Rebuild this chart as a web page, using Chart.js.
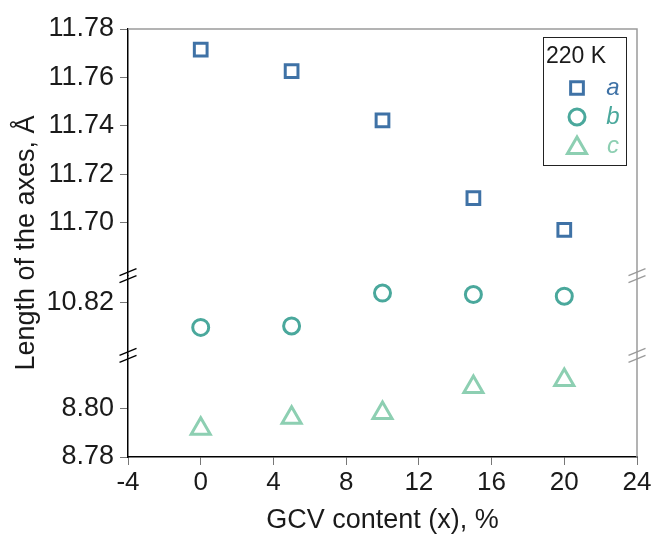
<!DOCTYPE html>
<html>
<head>
<meta charset="utf-8">
<script src="https://cdn.jsdelivr.net/npm/chart.js@4/dist/chart.umd.min.js"></script>
<style>
  html, body { margin: 0; padding: 0; background: #fff; }
  #wrap { width: 651px; height: 538px; }
</style>
</head>
<body>
<div id="wrap"><canvas id="c" width="651" height="538"></canvas></div>
<script>
// GCV content (x, %) and lattice parameters at 220 K
const content = [0, 5, 10, 15, 20];
const axisA = [11.7715, 11.7626, 11.7422, 11.7101, 11.6969];
const axisB = [10.8096, 10.8102, 10.8238, 10.8232, 10.8225];
const axisC = [8.7917, 8.7962, 8.7982, 8.8090, 8.8118];

const seriesNames = ['a', 'b', 'c'];
const legendTitle = '220 K';

// axis ticks and the three pieces of the broken y axis
const xTicks = [-4, 0, 4, 8, 12, 16, 20, 24];
const ticksTop = [11.70, 11.72, 11.74, 11.76, 11.78];
const ticksMid = [10.82];
const ticksBot = [8.78, 8.80];
const rangeTop = [11.678, 11.78];
const rangeMid = [10.798, 10.831];
const rangeBot = [8.78, 8.822];

const FONT = "'Liberation Sans', Arial, sans-serif";
const colA = '#3f72a6', colB = '#4aa89c', colC = '#8dcfb2';

function pts(ys) { return content.map((x, i) => ({ x: x, y: ys[i] })); }

function yPiece(range, ticks) {
  return {
    type: 'linear',
    position: 'left',
    stack: 'left',
    stackWeight: range[1] - range[0],
    min: range[0],
    max: range[1],
    afterBuildTicks: s => { s.ticks = ticks.map(v => ({ value: v })); },
    afterFit: s => { s.width = 128; },
    grid: { drawOnChartArea: false, drawTicks: true, tickLength: 8, tickColor: '#777', tickWidth: 1 },
    border: { display: true, color: '#000', width: 1.5 },
    ticks: { font: { family: FONT, size: 27 }, color: '#1a1a1a', padding: 6,
             callback: v => Number(v).toFixed(2) }
  };
}

// double slashes where the y axis is cut, on both sides
const breakMarks = {
  id: 'breakMarks',
  afterDraw(chart) {
    const { ctx, chartArea: ca, scales } = chart;
    const ys = [scales.yTop.bottom, scales.yMid.bottom];
    const sides = [[ca.left, '#000'], [ca.right, '#9a9a9a']];
    ctx.save();
    ctx.lineWidth = 1.3;
    sides.forEach(([x, col]) => {
      ctx.strokeStyle = col;
      ys.forEach(y => {
        [-3.5, 3.5].forEach(d => {
          ctx.beginPath();
          ctx.moveTo(x - 8.5, y + d + 3.5);
          ctx.lineTo(x + 8.5, y + d - 3.5);
          ctx.stroke();
        });
      });
    });
    ctx.restore();
  }
};

// grey top and right frame lines
const frame = {
  id: 'frame',
  beforeDatasetsDraw(chart) {
    const { ctx, chartArea: ca } = chart;
    ctx.save();
    ctx.strokeStyle = '#9a9a9a';
    ctx.lineWidth = 1.5;
    ctx.beginPath();
    ctx.moveTo(ca.left, ca.top);
    ctx.lineTo(ca.right, ca.top);
    ctx.lineTo(ca.right, ca.bottom);
    ctx.stroke();
    ctx.restore();
  }
};

// one y title for the whole broken axis
const yTitle = {
  id: 'yTitle',
  afterDraw(chart) {
    const { ctx, chartArea: ca } = chart;
    ctx.save();
    ctx.translate(27, (ca.top + ca.bottom) / 2);
    ctx.rotate(-Math.PI / 2);
    ctx.font = '27px ' + FONT;
    ctx.fillStyle = '#1a1a1a';
    ctx.textAlign = 'center';
    ctx.textBaseline = 'middle';
    ctx.fillText('Length of the axes, \u00C5', 0, 0);
    ctx.restore();
  }
};

// boxed legend inside the plot
const boxLegend = {
  id: 'boxLegend',
  afterDraw(chart) {
    const { ctx } = chart;
    const bx = 543, by = 37, bw = 83, bh = 128;
    ctx.save();
    ctx.fillStyle = '#fff';
    ctx.fillRect(bx, by, bw, bh);
    ctx.strokeStyle = '#222';
    ctx.lineWidth = 1;
    ctx.strokeRect(bx + 0.5, by + 0.5, bw, bh);
    ctx.fillStyle = '#1a1a1a';
    ctx.font = '23px ' + FONT;
    ctx.textAlign = 'left';
    ctx.textBaseline = 'middle';
    ctx.fillText(legendTitle, bx + 3, by + 20);
    chart.data.datasets.forEach((ds, i) => {
      const y = by + 51 + i * 29;
      const opts = { pointStyle: ds.pointStyle, radius: ds.pointRadius, borderWidth: ds.borderWidth, rotation: 0 };
      ctx.strokeStyle = ds.borderColor;
      ctx.fillStyle = 'rgba(0,0,0,0)';
      ctx.lineWidth = ds.borderWidth;
      Chart.helpers.drawPoint(ctx, opts, bx + 34, y + (ds.pointStyle === 'triangle' ? 2 : 0));
      ctx.fillStyle = ds.borderColor;
      ctx.font = 'italic 24px ' + FONT;
      ctx.textAlign = 'center';
      ctx.fillText(seriesNames[i], bx + 70, y);
    });
    ctx.restore();
  }
};

new Chart(document.getElementById('c'), {
  type: 'scatter',
  data: {
    datasets: [
      { label: seriesNames[0], data: pts(axisA), yAxisID: 'yTop', pointStyle: 'rect',
        pointRadius: 9, borderWidth: 3, borderColor: colA, backgroundColor: 'rgba(0,0,0,0)' },
      { label: seriesNames[1], data: pts(axisB), yAxisID: 'yMid', pointStyle: 'circle',
        pointRadius: 8, borderWidth: 3, borderColor: colB, backgroundColor: 'rgba(0,0,0,0)' },
      { label: seriesNames[2], data: pts(axisC), yAxisID: 'yBot', pointStyle: 'triangle',
        pointRadius: 11, borderWidth: 3, borderColor: colC, backgroundColor: 'rgba(0,0,0,0)' }
    ]
  },
  options: {
    responsive: false,
    animation: false,
    devicePixelRatio: 1,
    layout: { padding: { top: 29, right: 14, left: 0, bottom: 0 } },
    plugins: { legend: { display: false }, tooltip: { enabled: false } },
    scales: {
      x: {
        type: 'linear',
        min: xTicks[0],
        max: xTicks[xTicks.length - 1],
        afterBuildTicks: s => { s.ticks = xTicks.map(v => ({ value: v })); },
        afterFit: s => { s.height = 81; s.paddingRight = 8; },
        grid: { drawOnChartArea: false, drawTicks: true, tickLength: 8, tickColor: '#777', tickWidth: 1 },
        border: { display: true, color: '#000', width: 1.5 },
        ticks: { font: { family: FONT, size: 26 }, color: '#1a1a1a', padding: 2, maxRotation: 0 },
        title: { display: true, text: 'GCV content (x), %', font: { family: FONT, size: 27 },
                 color: '#1a1a1a', padding: { top: 0, bottom: 1 } }
      },
      yBot: yPiece(rangeBot, ticksBot),
      yMid: yPiece(rangeMid, ticksMid),
      yTop: yPiece(rangeTop, ticksTop)
    }
  },
  plugins: [frame, breakMarks, yTitle, boxLegend]
});
</script>
</body>
</html>
